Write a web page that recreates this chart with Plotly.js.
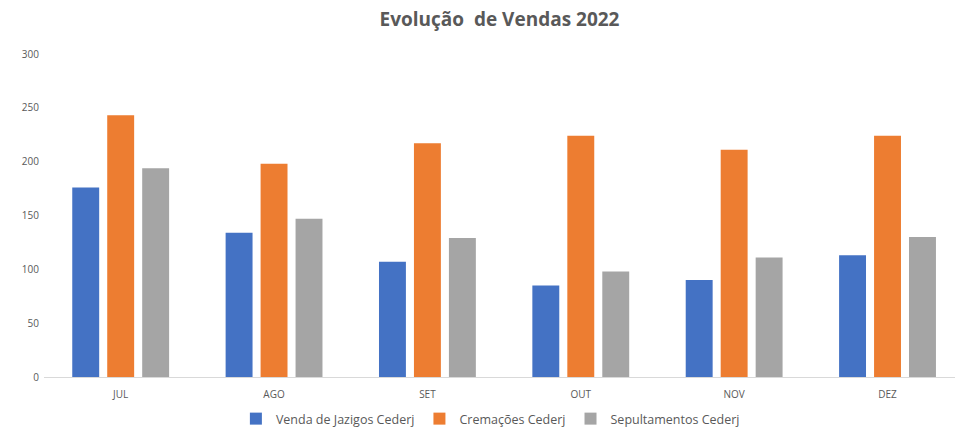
<!DOCTYPE html>
<html>
<head>
<meta charset="utf-8">
<script src="https://cdn.plot.ly/plotly-3.0.1.min.js"></script>
<style>
  html, body { margin: 0; padding: 0; background: #fff; }
  #chart { width: 955px; height: 434px; }
</style>
</head>
<body>
<div id="chart"></div>
<script>
// months and sales per series
const meses = ['JUL', 'AGO', 'SET', 'OUT', 'NOV', 'DEZ'];
const jazigos = [176, 134, 107, 85, 90, 113];
const cremacoes = [243, 198, 217, 224, 211, 224];
const sepultamentos = [194, 147, 129, 98, 111, 130];
const yTicks = [0, 50, 100, 150, 200, 250, 300];

const cores = { jazigos: '#4472c4', cremacoes: '#ed7d31', sepultamentos: '#a5a5a5' };

function serie(nome, valores, cor) {
    return {
        x: meses,
        y: valores,
        name: nome,
        type: 'bar',
        marker: { color: cor },
        hoverinfo: 'x+y+name'
    };
}

const data = [
    serie('Venda de Jazigos Cederj', jazigos, cores.jazigos),
    serie('Cremações Cederj', cremacoes, cores.cremacoes),
    serie('Sepultamentos Cederj', sepultamentos, cores.sepultamentos)
];

const layout = {
    width: 955,
    height: 434,
    paper_bgcolor: '#fff',
    plot_bgcolor: '#fff',
    font: { family: 'Open Sans, sans-serif', color: '#595959' },
    title: {
        text: '<b>Evolução  de Vendas 2022</b>',
        font: { size: 19, color: '#595959', family: 'Open Sans, sans-serif' },
        x: 0.5, xanchor: 'center', xref: 'paper',
        y: 0.955, yanchor: 'middle'
    },
    margin: { l: 44, r: 0, t: 54, b: 57 },
    barmode: 'group',
    bargap: 0.316,
    bargroupgap: 0.23,
    xaxis: {
        type: 'category',
        range: [-0.5, 5.44],
        showgrid: false,
        showline: true,
        linecolor: '#d9d9d9',
        linewidth: 1,
        ticks: '',
        ticklabelstandoff: 8,
        tickfont: { size: 10, color: '#595959' },
        fixedrange: true
    },
    yaxis: {
        range: [0, 300],
        tickvals: yTicks,
        showgrid: false,
        zeroline: false,
        showline: false,
        ticks: '',
        ticklen: 0,
        ticklabelstandoff: 4,
        tickfont: { size: 10, color: '#595959' },
        fixedrange: true
    },
    showlegend: true,
    legend: {
        orientation: 'h',
        xref: 'paper',
        x: 0.49, xanchor: 'center',
        yref: 'container',
        y: -0.009, yanchor: 'bottom',
        font: { size: 12.5, color: '#595959' },
        itemwidth: 12,
        tracegroupgap: 0
    }
};

Plotly.newPlot('chart', data, layout, { displayModeBar: false, staticPlot: true });
</script>
</body>
</html>
